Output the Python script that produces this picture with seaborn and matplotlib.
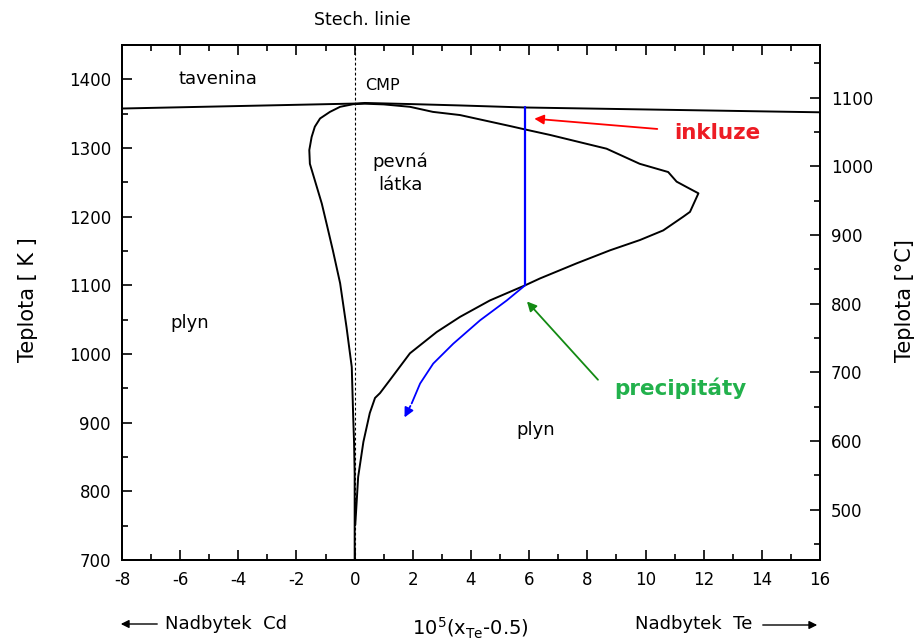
import numpy as np
import pandas as pd
import matplotlib
matplotlib.use("Agg")
import matplotlib.pyplot as plt
from matplotlib.ticker import MultipleLocator
import seaborn as sns

# ---- data ----
liq_x = [-8, -3, 0, 0.35, 1.9, 3.6, 5.85, 15.1, 16]
liq_T = [1357.5, 1362, 1364.7, 1365.6, 1364, 1362, 1359, 1352.6, 1352]

sol_x = [0, 0, -0.02, -0.05, -0.1, -0.28, -0.5, -0.75, -0.95, -1.13, -1.37, -1.54, -1.56,
         -1.48, -1.37, -1.19, -0.85, -0.5, -0.05, 0.35, 1.0, 1.9, 2.69, 3.62, 5.34, 5.86,
         6.72, 7.98, 8.66, 9.8, 10.78, 11.07, 11.42, 11.82,
         11.53, 11.3, 10.61, 9.81, 8.78, 7.63, 6.37, 5.86, 4.65, 3.62, 2.82, 1.9, 1.21,
         0.87, 0.7, 0.52, 0.3, 0.12, 0.045, 0.02]
sol_T = [700, 826, 870, 908, 981, 1039, 1103, 1151, 1187, 1219, 1253, 1277, 1297,
         1316, 1331, 1343, 1352.6, 1360, 1363.8, 1364.5, 1363.5, 1360, 1352.6, 1348, 1332, 1327,
         1319, 1306, 1299, 1277, 1265, 1251, 1243, 1234,
         1207, 1200, 1180, 1166, 1151, 1132, 1110, 1100, 1078, 1054, 1032, 1001, 962,
         943, 936, 914, 872, 821, 768, 751]

# blue path: vertical inclusion line and cooling curve
incl_x = [5.86, 5.86]
incl_T = [1100, 1359]
cool_x = [5.86, 5.23, 4.31, 3.39, 2.70, 2.25, 1.96]
cool_T = [1100, 1078, 1049, 1015, 986, 957, 928]
cool_tip = (1.67, 904)

stech_x = [0, 0]
stech_T = [700, 1450]

# ---- figure ----
sns.set_theme(style="white")
plt.rcParams['font.family'] = ['DejaVu Sans']
plt.rcParams['axes.unicode_minus'] = False
for k in ["text.color", "axes.labelcolor", "xtick.color", "ytick.color", "axes.edgecolor"]:
    plt.rcParams[k] = "black"

fig = plt.figure(figsize=(9.19, 6.44), dpi=100)
ax = fig.add_axes([122/919, 84/644, 698/919, 515/644])

df_liq = pd.DataFrame({"x": liq_x, "T": liq_T})
df_sol = pd.DataFrame({"x": sol_x, "T": sol_T})
df_incl = pd.DataFrame({"x": incl_x, "T": incl_T})
df_cool = pd.DataFrame({"x": cool_x, "T": cool_T})
df_st = pd.DataFrame({"x": stech_x, "T": stech_T})

sns.lineplot(data=df_st, x="x", y="T", ax=ax, sort=False, estimator=None,
             color="black", lw=0.8, linestyle=(0, (2.5, 2)))
sns.lineplot(data=df_liq, x="x", y="T", ax=ax, sort=False, estimator=None,
             color="black", lw=1.4)
sns.lineplot(data=df_sol, x="x", y="T", ax=ax, sort=False, estimator=None,
             color="black", lw=1.4)
sns.lineplot(data=df_incl, x="x", y="T", ax=ax, sort=False, estimator=None,
             color="#0000FF", lw=1.6)
sns.lineplot(data=df_cool, x="x", y="T", ax=ax, sort=False, estimator=None,
             color="#0000FF", lw=1.3)
ax.annotate("", xy=cool_tip, xytext=(cool_x[-1], cool_T[-1]),
            arrowprops=dict(arrowstyle="-|>", color="#0000FF", lw=1.3, mutation_scale=14))

ax.set_xlim(-8, 16)
ax.set_ylim(700, 1450)
ax.set_xlabel("")
ax.set_ylabel("")
ax.xaxis.set_major_locator(MultipleLocator(2))
ax.xaxis.set_minor_locator(MultipleLocator(1))
ax.yaxis.set_major_locator(MultipleLocator(100))
ax.yaxis.set_minor_locator(MultipleLocator(50))
ax.tick_params(which="both", direction="in", top=True, right=False, bottom=True, left=True,
               color="black", width=1.2)
ax.tick_params(which="major", length=7, labelsize=12, pad=8)
ax.tick_params(which="minor", length=4.5)
for s in ax.spines.values():
    s.set_color("black")
    s.set_linewidth(1.4)

ax2 = ax.twinx()
ax2.set_ylim(700 - 273.15, 1450 - 273.15)
ax2.yaxis.set_major_locator(MultipleLocator(100))
ax2.yaxis.set_minor_locator(MultipleLocator(50))
ax2.tick_params(which="both", direction="in", right=True, left=False, color="black", width=1.2)
ax2.tick_params(which="major", length=7, labelsize=12, pad=8)
ax2.tick_params(which="minor", length=4.5)
ax2.grid(False)
for s in ax2.spines.values():
    s.set_color("black")
    s.set_linewidth(1.4)

# region labels
ax.text(-4.7, 1400, "tavenina", fontsize=13, ha="center", va="center")
ax.text(0.97, 1391, "CMP", fontsize=11.5, ha="center", va="center")
ax.text(1.56, 1263, "pevná\nlátka", fontsize=13, ha="center", va="center", linespacing=1.35)
ax.text(-5.66, 1045, "plyn", fontsize=13, ha="center", va="center")
ax.text(6.24, 889, "plyn", fontsize=13, ha="center", va="center")

# annotations
ax.annotate("", xy=(6.08, 1343), xytext=(10.5, 1327.4),
            arrowprops=dict(arrowstyle="-|>", color="#FF0000", lw=1.3, mutation_scale=14))
ax.text(12.48, 1321.5, "inkluze", fontsize=15.5, fontweight="bold", color="#ED1C24",
        ha="center", va="center")
ax.annotate("", xy=(5.86, 1079.5), xytext=(8.43, 959.5),
            arrowprops=dict(arrowstyle="-|>", color="#138A13", lw=1.3, mutation_scale=14))
ax.text(11.19, 950, "precipitáty", fontsize=15.5, fontweight="bold", color="#22B14C",
        ha="center", va="center")

# outer texts
fig.text(362/919, (644-20)/644, "Stech. linie", fontsize=12.5, ha="center", va="center")
fig.text(28/919, (644-300)/644, "Teplota [ K ]", fontsize=15, rotation=90,
         ha="center", va="center")
fig.text(905/919, (644-301)/644, "Teplota [°C]", fontsize=15, rotation=90,
         ha="center", va="center")
fig.text(470/919, (644-628)/644, r"10$^5$(x$_{\mathrm{Te}}$-0.5)", fontsize=14,
         ha="center", va="center")
fig.text(165/919, (644-624)/644, "Nadbytek  Cd", fontsize=13, ha="left", va="center")
fig.text(752/919, (644-624)/644, "Nadbytek  Te", fontsize=13, ha="right", va="center")
fig.add_artist(matplotlib.patches.FancyArrowPatch((160/919, (644-624)/644), (118/919, (644-624)/644),
               transform=fig.transFigure, arrowstyle="-|>", mutation_scale=12, lw=1, color="black"))
fig.add_artist(matplotlib.patches.FancyArrowPatch((760/919, (644-625)/644), (820/919, (644-625)/644),
               transform=fig.transFigure, arrowstyle="-|>", mutation_scale=12, lw=1, color="black"))

fig.savefig("out.png", dpi=100, facecolor="white")
